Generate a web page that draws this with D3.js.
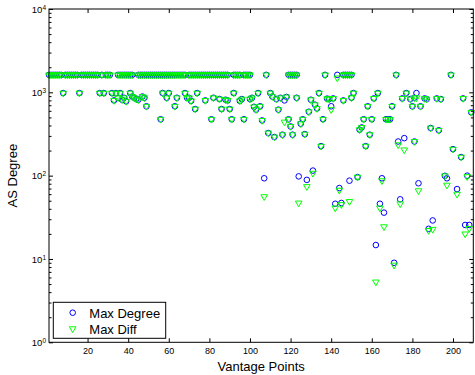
<!DOCTYPE html>
<html>
<head>
<meta charset="utf-8">
<script src="https://cdn.jsdelivr.net/npm/d3@7"></script>
<style>
  body { margin: 0; background: #fff; }
  svg text { font-family: "Liberation Sans", Arial, Helvetica, sans-serif; fill: #000; }
</style>
</head>
<body>
<svg id="chart" width="475" height="375"></svg>
<script>
// Vantage point index of every marker (a vantage point may carry more than one marker).
const vantage = [
  1,2,3,4,5,6,7,8,9,10,11,12,13,14,15,16,17,18,19,20,21,22,23,24,25,26,27,28,29,30,31,32,33,34,
  35,35,36,36,37,37,38,38,39,39,40,41,41,42,42,43,44,45,45,46,47,47,48,48,49,49,
  50,51,52,53,54,55,56,56,57,57,58,59,59,60,60,61,62,63,63,64,64,65,66,67,68,68,69,
  70,70,71,71,72,73,73,74,74,75,76,77,78,78,79,80,81,81,82,82,83,84,85,85,86,86,87,88,88,89,89,
  90,91,92,92,93,94,95,95,96,97,97,98,99,100,100,101,102,103,104,105,106,107,108,
  109,110,111,112,113,114,115,116,117,118,119,119,120,120,121,121,122,123,123,124,125,126,127,128,129,130,131,132,133,134,135,136,137,
  138,139,140,141,142,143,144,145,146,146,147,148,149,149,150,150,151,153,154,155,156,157,158,159,160,161,162,163,164,165,166,167,168,169,170,171,
  172,173,174,175,176,177,179,180,181,181,182,183,184,186,187,188,189,190,192,193,194,196,197,199,200,202,204,205,206,207,208,209
];

// Maximum AS degree seen from each vantage point.
const maxDegree = [
  1620,1620,1620,1620,1620,1620,1620,980,1620,1620,1620,1620,1620,1620,1620,980,1620,1620,1620,1620,1620,1620,1620,1620,1620,980,1620,980,1620,1620,1620,980,800,980,
  1620,860,1620,980,1620,815,1620,860,1620,780,1620,1620,980,1620,890,860,830,1620,815,1620,1620,890,1620,860,1620,680,
  1620,1620,1620,1620,1620,1620,1620,475,1620,980,1620,1620,860,1620,980,1620,1620,1620,680,1620,860,1620,1620,1620,1620,980,860,
  1620,860,1620,790,1620,1620,630,1620,980,1620,1620,1620,1620,800,1620,1620,1620,475,1620,860,1620,1620,1620,830,1620,630,1620,1620,815,1620,800,
  630,475,1620,980,1620,1620,1620,790,830,1620,475,1620,1620,1620,830,860,670,620,980,680,460,93,1620,
  325,980,890,291,830,620,860,310,800,880,1620,475,1620,390,1620,310,1620,1620,860,98,420,475,315,89,585,815,115,711,640,980,226,475,1620,
  840,830,680,845,46,1620,71,47,1620,800,1620,1620,1620,87,1620,860,980,96,356,379,475,226,680,310,475,845,14.7,980,46,93,36,475,475,475,680,9.0,
  1620,257,52,845,282,980,830,680,257,860,980,81,680,845,830,23,373,29,845,350,830,99.5,93,1620,208,69,167,845,25.6,100,25.6,575
];

// Maximum degree difference seen from each vantage point.
const maxDiff = [
  1620,1620,1620,1620,1620,1620,1620,980,1620,1620,1620,1620,1620,1620,1620,980,1620,1620,1620,1620,1620,1620,1620,1620,1620,980,1620,980,1620,1620,1620,980,800,980,
  1620,860,1620,980,1620,815,1620,860,1620,780,1620,1620,980,1620,890,860,830,1620,815,1620,1620,890,1620,860,1620,680,
  1620,1620,1620,1620,1620,1620,1620,475,1620,980,1620,1620,860,1620,980,1620,1620,1620,680,1620,860,1620,1620,1620,1620,980,860,
  1620,860,1620,790,1620,1620,630,1620,980,1620,1620,1620,1620,800,1620,1620,1620,475,1620,860,1620,1620,1620,830,1620,630,1620,1620,815,1620,800,
  630,475,1620,980,1620,1620,1620,790,830,1620,475,1620,1620,1620,830,860,670,620,980,680,460,56,1620,
  325,980,890,291,830,620,860,310,440,880,1620,475,1620,390,1620,310,1620,1620,860,47,420,475,315,74,585,815,107,711,640,980,226,475,1620,
  840,830,620,845,41,1490,67,45,1620,800,1620,1620,1620,49,1620,860,980,96,356,379,475,226,680,310,475,845,5.3,980,41,87,24.4,475,475,475,680,8.45,
  1620,235,46,845,204,980,830,680,257,860,860,66,680,845,830,22,373,22.7,845,350,830,99.5,77,1620,208,60,167,845,20,97.5,23.3,575
];

// Axis ticks and labels.
const xTicks = [20, 40, 60, 80, 100, 120, 140, 160, 180, 200];
const yMajorTicks = [1, 10, 100, 1000, 10000];
const yMinorTicks = [2,3,4,5,6,7,8,9, 20,30,40,50,60,70,80,90, 200,300,400,500,600,700,800,900, 2000,3000,4000,5000,6000,7000,8000,9000];
const seriesNames = ["Max Degree", "Max Diff"];
const xTitle = "Vantage Points";
const yTitle = "AS Degree";

const W = 475, H = 375;
const plot = { left: 49, right: 473.3, top: 9, bottom: 342.3 };

const svg = d3.select("#chart");

const x = d3.scaleLinear().domain([1, 210]).range([plot.left, plot.right]);
const y = d3.scaleLog().domain([1, 10000]).range([plot.bottom, plot.top]);

const points = vantage.map((v, i) => ({ v, deg: maxDegree[i], diff: maxDiff[i] }));

// Markers: circles first, downward triangles drawn above them.
const triangle = d3.symbol().type(d3.symbolTriangle).size(19);

svg.append("g").selectAll("circle").data(points).join("circle")
  .attr("cx", d => x(d.v))
  .attr("cy", d => y(d.deg))
  .attr("r", 2.8)
  .attr("fill", "none")
  .attr("stroke", "#0000ff")
  .attr("stroke-width", 1);

svg.append("g").selectAll("path").data(points).join("path")
  .attr("d", triangle)
  .attr("transform", d => `translate(${x(d.v)},${y(d.diff)}) rotate(180)`)
  .attr("fill", "none")
  .attr("stroke", "#00ff00")
  .attr("stroke-width", 1);

// Axes with inward ticks on all four sides.
function styleAxis(g) {
  g.select(".domain").remove();
  g.selectAll(".tick line").attr("stroke", "#000").attr("stroke-width", 1);
  g.selectAll(".tick text").attr("font-size", "9px").attr("fill", "#000");
}

svg.append("g")
  .attr("transform", `translate(0,${plot.bottom})`)
  .call(d3.axisBottom(x).tickValues(xTicks).tickSizeInner(-4).tickSizeOuter(0).tickPadding(5))
  .call(styleAxis);

svg.append("g")
  .attr("transform", `translate(0,${plot.top})`)
  .call(d3.axisTop(x).tickValues(xTicks).tickSizeInner(-4).tickSizeOuter(0).tickFormat(""))
  .call(styleAxis);

const leftMajor = svg.append("g")
  .attr("transform", `translate(${plot.left},0)`)
  .call(d3.axisLeft(y).tickValues(yMajorTicks).tickSizeInner(-4).tickSizeOuter(0).tickPadding(3).tickFormat(() => "10"))
  .call(styleAxis);

leftMajor.selectAll(".tick text")
  .attr("font-size", "9.5px")
  .append("tspan")
  .attr("dy", "-0.45em")
  .attr("font-size", "6.5px")
  .text(d => Math.round(Math.log10(d)));

svg.append("g")
  .attr("transform", `translate(${plot.left},0)`)
  .call(d3.axisLeft(y).tickValues(yMinorTicks).tickSizeInner(-2.5).tickSizeOuter(0).tickFormat(""))
  .call(styleAxis);

svg.append("g")
  .attr("transform", `translate(${plot.right},0)`)
  .call(d3.axisRight(y).tickValues(yMajorTicks).tickSizeInner(-4).tickSizeOuter(0).tickFormat(""))
  .call(styleAxis);

svg.append("g")
  .attr("transform", `translate(${plot.right},0)`)
  .call(d3.axisRight(y).tickValues(yMinorTicks).tickSizeInner(-2.5).tickSizeOuter(0).tickFormat(""))
  .call(styleAxis);

// Plot frame.
svg.append("rect")
  .attr("x", plot.left).attr("y", plot.top)
  .attr("width", plot.right - plot.left).attr("height", plot.bottom - plot.top)
  .attr("fill", "none").attr("stroke", "#000").attr("stroke-width", 1);

// Axis titles.
svg.append("text")
  .attr("x", (plot.left + plot.right) / 2).attr("y", 371)
  .attr("text-anchor", "middle").attr("font-size", "13px")
  .text(xTitle);

svg.append("text")
  .attr("transform", `translate(16.5,${(plot.top + plot.bottom) / 2}) rotate(-90)`)
  .attr("text-anchor", "middle").attr("font-size", "13px")
  .text(yTitle);

// Legend.
const legend = svg.append("g");
legend.append("rect")
  .attr("x", 53.3).attr("y", 302.3).attr("width", 112.4).attr("height", 36)
  .attr("fill", "#fff").attr("stroke", "#000").attr("stroke-width", 1);
legend.append("circle")
  .attr("cx", 72.7).attr("cy", 312.7).attr("r", 2.8)
  .attr("fill", "none").attr("stroke", "#0000ff").attr("stroke-width", 1);
legend.append("path")
  .attr("d", triangle())
  .attr("transform", "translate(72.7,328.7) rotate(180)")
  .attr("fill", "none").attr("stroke", "#00ff00").attr("stroke-width", 1);
legend.selectAll("text.entry").data(seriesNames).join("text")
  .attr("class", "entry")
  .attr("x", 89.3)
  .attr("y", (d, i) => 318 + i * 16)
  .attr("font-size", "13px")
  .text(d => d);
</script>
</body>
</html>
